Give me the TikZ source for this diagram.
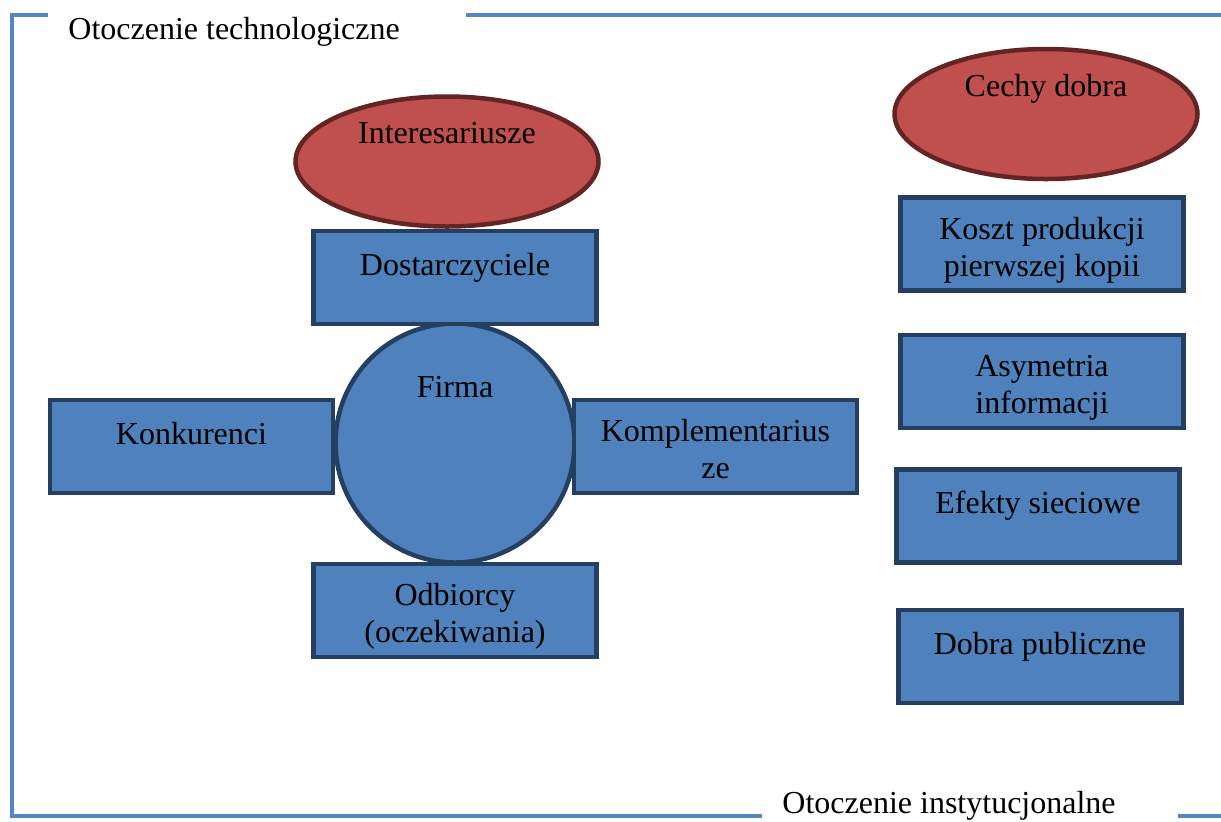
\documentclass[tikz,border=0pt]{standalone}
\usepackage{fontspec}
\setmainfont{Liberation Serif}
\usetikzlibrary{positioning,shapes.geometric}
\definecolor{boxblue}{RGB}{79,129,189}
\definecolor{boxline}{RGB}{36,63,96}
\definecolor{ovalred}{RGB}{192,80,77}
\definecolor{ovalline}{RGB}{99,37,35}
\definecolor{framecol}{RGB}{84,134,196}

\begin{document}
\begin{tikzpicture}[
    x=0.5pt, y=-0.5pt,
    font=\fontsize{16}{18.5}\selectfont,
    node distance=20pt,
    box/.style={rectangle, draw=boxline, fill=boxblue, line width=2.25pt, minimum width=141.5pt, minimum height=46.5pt, inner sep=0pt, align=center, text height=11pt, text depth=13.5pt},
    twoline/.style={text height=35.5pt, text depth=3.5pt},
    oval/.style={ellipse, draw=ovalline, fill=ovalred, line width=2.25pt, minimum width=151.5pt, minimum height=65pt, inner sep=0pt, text height=11pt, text depth=29pt},
    firm/.style={circle, draw=boxline, fill=boxblue, line width=2.25pt, minimum size=119.5pt, inner sep=0pt, text height=11pt, text depth=57pt},
    frame/.style={draw=framecol, line width=2pt},
    frametext/.style={anchor=base west, inner sep=0pt}
]
  \useasboundingbox (0,0) rectangle (1221,821);

  % Firm and its surroundings
  \node[firm] (firma) at (455,443) {Firma};
  \node[box, above=-2.5pt of firma] (dostawcy) {Dostarczyciele};
  \node[box, left=-1pt of firma, yshift=-1.75pt] (konkurenci) {Konkurenci};
  \node[box, twoline, right=-2.5pt of firma, yshift=-1.75pt] (komplem) {Komplementarius\\ze};
  \node[box, twoline, below=-1.5pt of firma] (odbiorcy) {Odbiorcy\\(oczekiwania)};
  \node[oval, above=0pt of dostawcy, xshift=-4pt] (interes) {Interesariusze};

  % Features of the good
  \node[oval] (cechy) at (1046,114) {Cechy dobra};
  \node[box, twoline, below=7pt of cechy, xshift=-2pt] (koszt) {Koszt produkcji\\pierwszej kopii};
  \node[box, twoline, below=of koszt] (asymetria) {Asymetria\\informacji};
  \node[box, below=18.5pt of asymetria, xshift=-2pt] (efekty) {Efekty sieciowe};
  \node[box, below=21.5pt of efekty, xshift=1pt] (publiczne) {Dobra publiczne};

  % Frame
  \node[frametext] (techn) at (68,39) {Otoczenie technologiczne};
  \node[frametext] (instyt) at (782,813) {Otoczenie instytucjonalne};
  \draw[frame] (48,15) -- (12,15) -- (12,816) -- (762,816);
  \draw[frame] (466,15) -- (1221,15);
  \draw[frame] (1178,816) -- (1221,816);
\end{tikzpicture}
\end{document}
